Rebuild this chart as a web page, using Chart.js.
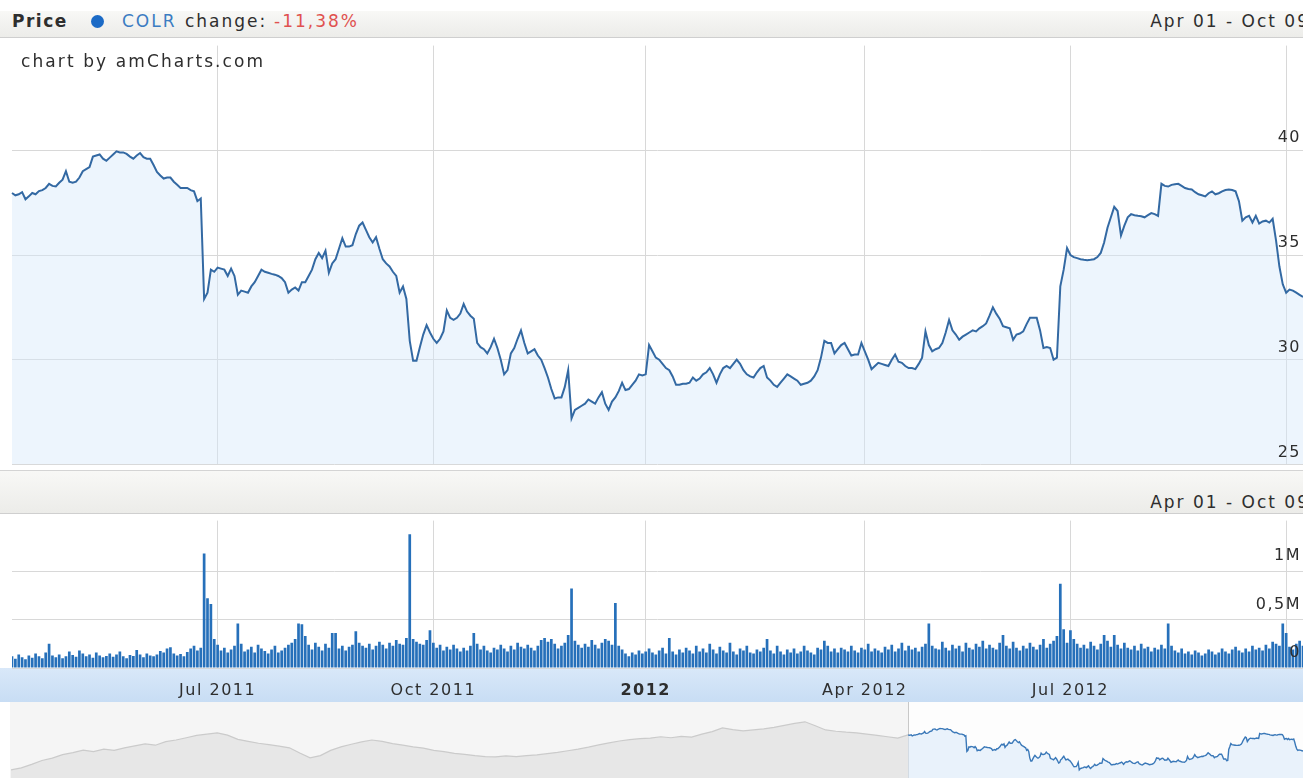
<!DOCTYPE html>
<html>
<head>
<meta charset="utf-8">
<script src="https://cdn.jsdelivr.net/npm/chart.js@4.4.1/dist/chart.umd.min.js"></script>
<style>
body { margin: 0; width: 1303px; height: 778px; overflow: hidden; background: #fff; position: relative;
       font-family: "DejaVu Sans", Verdana, sans-serif; color: #2e2e2e; }
.bar { position: absolute; left: 0; width: 1303px; background: linear-gradient(#f8f8f6, #ecece9); overflow: hidden; }
.bar span { position: absolute; font-size: 17px; line-height: 20px; letter-spacing: 2px; white-space: nowrap; }
#head { top: 11px; height: 26px; border-bottom: 1px solid #cfcfcf; }
#mid { top: 470px; height: 42px; border-top: 1px solid #d4d4d4; border-bottom: 1px solid #cfcfcf; }
#dot { position: absolute; left: 91px; top: 4px; width: 13px; height: 13px; border-radius: 50%; background: #1b6ac6; }
#credit { position: absolute; left: 21px; top: 51px; font-size: 17px; letter-spacing: 2.1px; color: #2e2e2e; }
#band { position: absolute; left: 0; top: 668px; width: 1303px; height: 34px; background: linear-gradient(#d9e8f9, #c8ddf4); }
canvas { position: absolute; left: 0; }
</style>
</head>
<body>
<div id="head" class="bar">
  <span style="left:12px;top:0;font-weight:bold;letter-spacing:1.5px">Price</span>
  <div id="dot"></div>
  <span style="left:122px;top:0;color:#3b7cc2">COLR</span>
  <span style="left:185px;top:0">change:</span>
  <span style="left:274px;top:0;color:#e0514f">-11,38%</span>
  <span style="right:-7px;top:0">Apr 01 - Oct 09</span>
</div>
<div id="mid" class="bar">
  <span style="right:-7px;top:21px">Apr 01 - Oct 09</span>
</div>
<div id="band"></div>
<canvas id="price" width="1303" height="434" style="top:38px"></canvas>
<div id="credit">chart by amCharts.com</div>
<canvas id="volume" width="1303" height="189" style="top:513px"></canvas>
<canvas id="nav" width="1303" height="76" style="top:702px"></canvas>
<script>
// daily close, Apr 01 2011 - Oct 09 2012
const price = [
  37.96, 37.85, 37.9, 38.0, 37.66, 37.8, 37.96, 37.9, 38.05, 38.1,
  38.2, 38.4, 38.3, 38.27, 38.45, 38.6, 39.0, 38.5, 38.45, 38.5,
  38.7, 39.0, 39.1, 39.2, 39.7, 39.75, 39.8, 39.6, 39.5, 39.65,
  39.8, 39.95, 39.9, 39.9, 39.83, 39.7, 39.6, 39.75, 39.87, 39.67,
  39.6, 39.6, 39.3, 38.97, 38.8, 38.65, 38.7, 38.7, 38.5, 38.35,
  38.2, 38.2, 38.2, 38.1, 38.04, 37.57, 37.7, 32.9, 33.2, 34.3,
  34.2, 34.4, 34.35, 34.3, 34.0, 34.35, 34.0, 33.1, 33.3, 33.25,
  33.2, 33.5, 33.7, 34.0, 34.3, 34.2, 34.15, 34.1, 34.06, 34.0,
  33.9, 33.7, 33.2, 33.35, 33.45, 33.3, 33.7, 33.7, 34.0, 34.3,
  34.8, 35.1, 34.85, 35.2, 34.15, 34.6, 34.8, 35.3, 35.8, 35.4,
  35.4, 35.47, 36.0, 36.4, 36.55, 36.2, 35.85, 35.6, 35.85, 35.3,
  34.8, 34.6, 34.45, 34.2, 34.0, 33.2, 33.5, 32.9, 30.9, 29.95,
  29.95, 30.6, 31.2, 31.65, 31.3, 31.0, 30.8, 31.0, 31.35, 32.35,
  32.0, 31.9, 32.0, 32.2, 32.66, 32.3, 32.1, 31.96, 30.8, 30.6,
  30.5, 30.3, 30.6, 31.0, 30.56, 30.0, 29.3, 29.5, 30.3, 30.56,
  31.0, 31.4, 30.8, 30.3, 30.4, 30.5, 30.2, 30.0, 29.6, 29.15,
  28.6, 28.15, 28.2, 28.2, 28.7, 29.5, 27.2, 27.6, 27.7, 27.8,
  27.9, 28.1, 28.0, 27.9, 28.2, 28.45, 27.9, 27.6, 28.0, 28.2,
  28.5, 28.9, 28.55, 28.6, 28.8, 29.0, 29.3, 29.25, 29.3, 30.7,
  30.4, 30.1, 30.0, 29.8, 29.6, 29.5, 29.2, 28.8, 28.8, 28.85,
  28.85, 28.9, 29.15, 29.0, 29.1, 29.3, 29.4, 29.6, 29.3, 28.9,
  29.3, 29.6, 29.7, 29.6, 29.8, 30.0, 29.8, 29.5, 29.3, 29.2,
  29.15, 29.4, 29.6, 29.7, 29.15, 29.0, 28.8, 28.7, 28.9, 29.1,
  29.3, 29.2, 29.1, 29.0, 28.8, 28.85, 28.9, 29.0, 29.2, 29.5,
  30.1, 30.9, 30.8, 30.8, 30.3, 30.5, 30.7, 30.8, 30.5, 30.2,
  30.25, 30.25, 30.8, 30.4, 30.0, 29.55, 29.7, 29.85, 29.8, 29.75,
  29.7, 30.0, 30.25, 29.9, 29.85, 29.7, 29.6, 29.6, 29.55, 29.8,
  30.1, 31.35, 30.7, 30.4, 30.5, 30.56, 30.8, 31.3, 31.9, 31.4,
  31.2, 30.95, 31.1, 31.2, 31.3, 31.4, 31.35, 31.5, 31.6, 31.73,
  32.1, 32.5, 32.2, 31.96, 31.6, 31.55, 31.5, 30.95, 31.2, 31.25,
  31.35, 31.7, 32.0, 32.0, 32.0, 31.4, 30.56, 30.6, 30.56, 30.0,
  30.1, 33.5, 34.3, 35.33, 35.0, 34.9, 34.85, 34.8, 34.77, 34.75,
  34.77, 34.8, 34.9, 35.1, 35.6, 36.3, 36.8, 37.3, 37.1, 35.93,
  36.4, 36.8, 36.95, 36.9, 36.87, 36.85, 36.8, 36.9, 37.0, 36.95,
  36.87, 38.4, 38.3, 38.27, 38.35, 38.38, 38.4, 38.3, 38.2, 38.15,
  38.13, 38.0, 37.9, 37.85, 37.8, 37.95, 38.04, 37.9, 37.95, 38.04,
  38.1, 38.13, 38.1, 38.04, 37.57, 36.64, 36.8, 36.87, 36.55, 36.87,
  36.5, 36.6, 36.64, 36.55, 36.73, 35.7, 34.45, 33.6, 33.2, 33.35,
  33.3, 33.2, 33.1, 33.0
];

// daily volume, thousands of shares
const volume = [
  120, 95, 140, 110, 90, 130, 105, 150, 120, 100,
  160, 250, 130, 110, 140, 100, 120, 170, 135, 115,
  180, 150, 120, 140, 105, 160, 130, 110, 125, 150,
  115, 140, 170, 120, 100, 135, 125, 185, 140, 110,
  150, 130, 120, 140, 175, 160, 200, 215, 150, 130,
  145, 120, 165, 200, 230, 180, 210, 1180, 720, 660,
  300, 240, 180, 210, 160, 190, 230, 460, 250, 170,
  190, 220, 160, 240, 200, 175, 150, 190, 230, 160,
  180, 210, 240, 260, 300, 460, 450, 330, 240, 190,
  260, 220, 180, 250, 210, 360, 360, 200, 230, 180,
  220, 240, 380, 260, 230, 210, 250, 190, 230, 270,
  240, 200, 260, 230, 290, 250, 240, 310, 1380, 300,
  270, 250, 240, 290, 390, 260, 210, 240, 180, 220,
  190, 240, 200, 170, 210, 180, 230, 360, 250, 190,
  230, 180, 160, 210, 190, 240, 200, 170, 230, 190,
  260, 220, 200, 240, 210, 180, 230, 290, 310, 270,
  300, 250, 200, 230, 260, 340, 820, 280, 240, 210,
  250, 220, 290, 240, 200, 260, 300, 280, 240, 670,
  230, 190, 150, 120, 160, 140, 180, 150, 170, 200,
  160, 140, 180, 210, 150, 310, 170, 140, 190, 160,
  210, 180, 150, 230, 170, 200, 160, 250, 190, 150,
  220, 180, 160, 260, 170, 140, 200, 180, 230, 160,
  150, 190, 170, 210, 300, 180, 150, 230, 170, 140,
  190, 160, 200, 150, 170, 230, 180, 160, 140, 210,
  190, 280, 230, 170, 200, 160, 210, 190, 170, 230,
  180, 160, 210, 190, 250, 170, 200, 180, 160, 220,
  190, 240, 170, 200, 260, 180, 230, 190, 210, 170,
  220, 250, 460, 230, 200, 190, 270, 210, 180, 240,
  200, 230, 170, 260, 210, 190, 250, 220, 280, 200,
  240, 210, 190, 260, 340, 230, 200, 270, 210, 180,
  230, 200, 260, 220, 190, 240, 300, 210, 250, 280,
  330, 870, 400, 260, 390, 300, 250, 210, 240, 200,
  270, 230, 190, 250, 340, 280, 220, 340, 240, 200,
  260, 210, 190, 230, 180, 250, 200, 220, 170, 210,
  190, 240, 200, 460, 230, 180, 160, 200, 150, 170,
  140, 180, 160, 130, 150, 190, 170, 140, 160, 200,
  170, 150, 190, 220, 180, 160, 200, 170, 230, 190,
  210, 180, 240, 200, 270, 250, 230, 460, 360, 220,
  190, 250, 280, 230
];

// quarter starts (trading-day index) and their labels
const quarterIndex = [61, 125, 188, 253, 314, 378];
const quarterLabels = ['Jul 2011', 'Oct 2011', '2012', 'Apr 2012', 'Jul 2012', ''];

const priceTicks = [25, 30, 35, 40];
const volumeTicks = [0, 500, 1000];

// scrollbar history: one close every 10 trading days before Apr 01 2011
const navHistory = [
  27.2, 27.8, 28.9, 30.1, 30.8, 31.9, 32.5, 33.3, 32.8, 33.6,
  33.2, 34.0, 34.6, 35.2, 34.8, 35.9, 36.4, 37.1, 37.8, 38.2,
  38.6, 37.9, 36.6, 36.0, 35.4, 35.0, 34.5, 34.0, 32.4, 30.9,
  31.6, 33.2, 34.3, 35.1, 35.8, 36.4, 36.0, 35.3, 34.8, 34.3,
  33.9, 33.2, 32.8, 32.3, 32.0, 31.6, 31.3, 31.2, 31.5, 31.3,
  31.6, 31.8, 32.2, 32.6, 33.1, 33.6, 34.2, 34.9, 35.5, 36.1,
  36.5, 36.8, 37.0, 37.4, 37.1, 37.5, 37.3, 38.2, 39.0, 40.1,
  39.6, 39.2, 39.5, 39.8, 40.3, 40.9, 41.5, 42.0, 40.8, 39.5,
  39.1, 38.8, 38.6, 38.2, 37.8, 37.4, 37.0, 37.96
];
const navYearTicks = [-796, -535, -279, -27, 191];
const navYearLabels = ['2008', '2009', '2010', '2011', '2012'];

const FONT = { family: 'DejaVu Sans', size: 16 };
const GRID = '#d8d8d8';
const days = price.map((_, i) => i);

const spacing = { id: 'spacing', beforeDraw(c) { c.ctx.letterSpacing = '1.5px'; } };

new Chart(document.getElementById('price'), {
    type: 'line',
    data: {
        labels: days,
        datasets: [{
            data: price,
            borderColor: '#3369a3',
            borderWidth: 2,
            backgroundColor: 'rgba(214, 232, 250, 0.45)',
            fill: 'start',
            pointRadius: 0,
            tension: 0
        }]
    },
    options: {
        responsive: false,
        animation: false,
        layout: { padding: { left: 12, top: 3, bottom: 3 } },
        plugins: { legend: { display: false }, tooltip: { enabled: false } },
        scales: {
            x: {
                grid: { color: GRID, drawTicks: false },
                border: { display: false },
                ticks: { display: false, autoSkip: false },
                afterBuildTicks: a => { a.ticks = quarterIndex.map(v => ({ value: v })); },
                afterFit: a => { a.height = 0; }
            },
            y: {
                position: 'right',
                min: 25,
                max: 45,
                grid: { color: GRID, drawTicks: false },
                border: { display: false },
                afterBuildTicks: a => { a.ticks = priceTicks.map(v => ({ value: v })); },
                afterFit: a => { a.width = 0; },
                ticks: { mirror: true, padding: -2, labelOffset: -12, color: '#2e2e2e', font: FONT, z: 1 }
            }
        }
    },
    plugins: [spacing]
});

new Chart(document.getElementById('volume'), {
    type: 'bar',
    data: {
        labels: days,
        datasets: [{
            data: volume,
            backgroundColor: '#2670ba',
            barPercentage: 0.8,
            categoryPercentage: 1
        }]
    },
    options: {
        responsive: false,
        animation: false,
        layout: { padding: { left: 12, top: 2 } },
        plugins: { legend: { display: false }, tooltip: { enabled: false } },
        scales: {
            x: {
                offset: false,
                grid: { color: GRID, drawTicks: false, offset: false },
                border: { display: false },
                afterBuildTicks: a => { a.ticks = quarterIndex.map(v => ({ value: v })); },
                afterFit: a => { a.height = 34; },
                ticks: {
                    autoSkip: false,
                    maxRotation: 0,
                    padding: 13,
                    color: '#2e2e2e',
                    callback: (v, i) => quarterLabels[i],
                    font: c => ({ family: 'DejaVu Sans', size: 16, weight: quarterLabels[c.index] === '2012' ? 'bold' : 'normal' })
                }
            },
            y: {
                position: 'right',
                min: 0,
                max: 1520,
                grid: { color: GRID, drawTicks: false },
                border: { display: false },
                afterBuildTicks: a => { a.ticks = volumeTicks.map(v => ({ value: v })); },
                afterFit: a => { a.width = 0; },
                ticks: {
                    mirror: true, padding: -2, labelOffset: -15, color: '#2e2e2e', font: FONT, z: 1,
                    callback: v => v === 0 ? '0' : String(v / 1000).replace('.', ',') + 'M'
                }
            }
        }
    },
    plugins: [spacing]
});

const navShade = {
    id: 'navShade',
    beforeDraw(c) {
        const { ctx, chartArea: a, scales: { x } } = c;
        const x0 = x.getPixelForValue(0);
        ctx.save();
        ctx.fillStyle = '#f5f5f5';
        ctx.fillRect(a.left, a.top, x0 - a.left, a.bottom - a.top);
        ctx.fillStyle = '#fdfdfd';
        ctx.fillRect(x0, a.top, a.right - x0, a.bottom - a.top);
        ctx.strokeStyle = '#c8c8c8';
        ctx.beginPath();
        ctx.moveTo(Math.round(x0) + 0.5, a.top);
        ctx.lineTo(Math.round(x0) + 0.5, a.bottom);
        ctx.stroke();
        ctx.restore();
    }
};

new Chart(document.getElementById('nav'), {
    type: 'line',
    data: {
        datasets: [{
            data: navHistory.map((v, i) => ({ x: (i - navHistory.length + 1) * 10, y: v })),
            borderColor: '#cbcbcb',
            borderWidth: 1.2,
            backgroundColor: '#e7e7e7',
            fill: 'start',
            pointRadius: 0
        }, {
            data: price.map((v, i) => ({ x: i, y: v })),
            borderColor: '#3a78b8',
            borderWidth: 1.4,
            backgroundColor: 'rgba(220, 235, 250, 0.6)',
            fill: 'start',
            pointRadius: 0
        }]
    },
    options: {
        responsive: false,
        animation: false,
        layout: { padding: { left: 10 } },
        plugins: { legend: { display: false }, tooltip: { enabled: false } },
        scales: {
            x: {
                type: 'linear',
                min: -871,
                max: 383,
                grid: { display: false },
                border: { display: false },
                afterBuildTicks: a => { a.ticks = navYearTicks.map(v => ({ value: v })); },
                afterFit: a => { a.height = 0; },
                ticks: { padding: -17, color: '#2e2e2e', font: FONT, z: 1, callback: (v, i) => navYearLabels[i] }
            },
            y: { display: false, min: 24.7, max: 48.1 }
        }
    },
    plugins: [navShade, spacing]
});
</script>
</body>
</html>
